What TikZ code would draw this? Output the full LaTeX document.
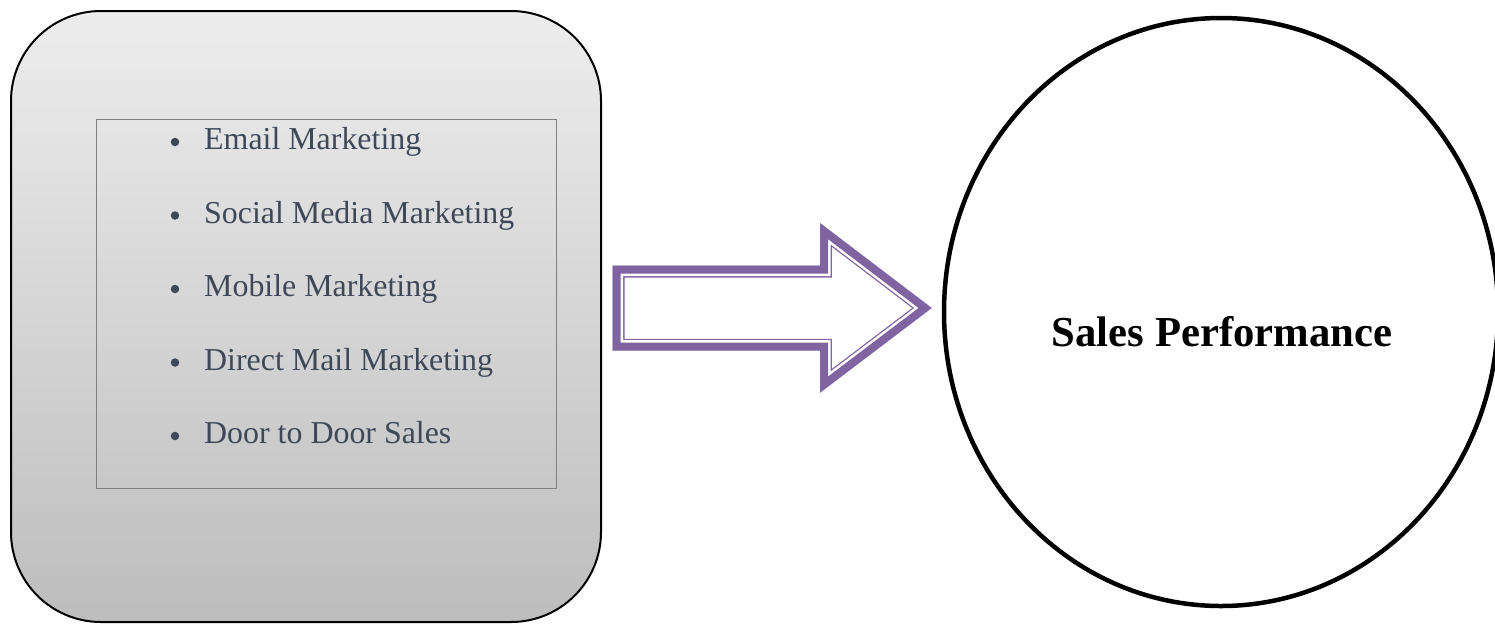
\documentclass[tikz,border=0pt]{standalone}
\usepackage{fontspec}
\setmainfont{Liberation Serif}
\usetikzlibrary{shapes.geometric}
\definecolor{boxtop}{HTML}{EDEDED}
\definecolor{boxbot}{HTML}{BDBDBD}
\definecolor{itemtxt}{HTML}{3E4859}
\definecolor{arrowpurple}{HTML}{8064A2}
\definecolor{framegray}{HTML}{808080}
\begin{document}
\begin{tikzpicture}[x=1pt,y=-1pt,
  outerbox/.style={draw=black,line width=2pt,rounded corners=90pt,top color=boxtop,bottom color=boxbot},
  listframe/.style={draw=framegray,line width=0.9pt},
  item/.style={anchor=base west,inner sep=0pt,text=itemtxt,font=\fontsize{31.9}{36}\selectfont},
  bulletdot/.style={circle,fill=itemtxt,inner sep=0pt,minimum size=8.5pt},
  target/.style={draw=black,line width=4.5pt,ellipse,minimum width=554pt,minimum height=588pt,inner sep=0pt},
  targettext/.style={font=\fontsize{42.7}{48}\selectfont\bfseries,anchor=base,inner sep=0pt},
  arrowline/.style={line join=miter,miter limit=10}
]
\useasboundingbox (0,0) rectangle (1495,625);
\fill[white] (0,0) rectangle (1495,625);
% left rounded box
\path[outerbox] (11,11) rectangle (601,622);
\draw[listframe] (96,119) rectangle (556,488);
% items
\foreach \y/\t [count=\i] in {149.5/Email Marketing,223/Social Media Marketing,296.5/Mobile Marketing,370/Direct Mail Marketing,443.5/Door to Door Sales}{
  \node[bulletdot] (b\i) at (175,\y-7.5) {};
  \node[item] (t\i) at (204,\y) {\t};
}
% arrow
\coordinate (a1) at (612.7,265.7);
\coordinate (a2) at (820,265.7);
\coordinate (a3) at (820,223);
\coordinate (a4) at (931.7,308);
\coordinate (a5) at (820,392.7);
\coordinate (a6) at (820,350.7);
\coordinate (a7) at (612.7,350.7);
\begin{scope}
  \clip (a1)--(a2)--(a3)--(a4)--(a5)--(a6)--(a7)--cycle;
  \fill[white] (a1)--(a2)--(a3)--(a4)--(a5)--(a6)--(a7)--cycle;
  \draw[arrowpurple,line width=23.6pt,arrowline] (a1)--(a2)--(a3)--(a4)--(a5)--(a6)--(a7)--cycle;
  \draw[white,line width=21pt,arrowline] (a1)--(a2)--(a3)--(a4)--(a5)--(a6)--(a7)--cycle;
  \draw[arrowpurple,line width=16pt,arrowline] (a1)--(a2)--(a3)--(a4)--(a5)--(a6)--(a7)--cycle;
\end{scope}
% target ellipse
\node[target] (sales) at (1221,312) {};
\node[targettext] (salestxt) at (1222,346) {Sales Performance};
\end{tikzpicture}
\end{document}
